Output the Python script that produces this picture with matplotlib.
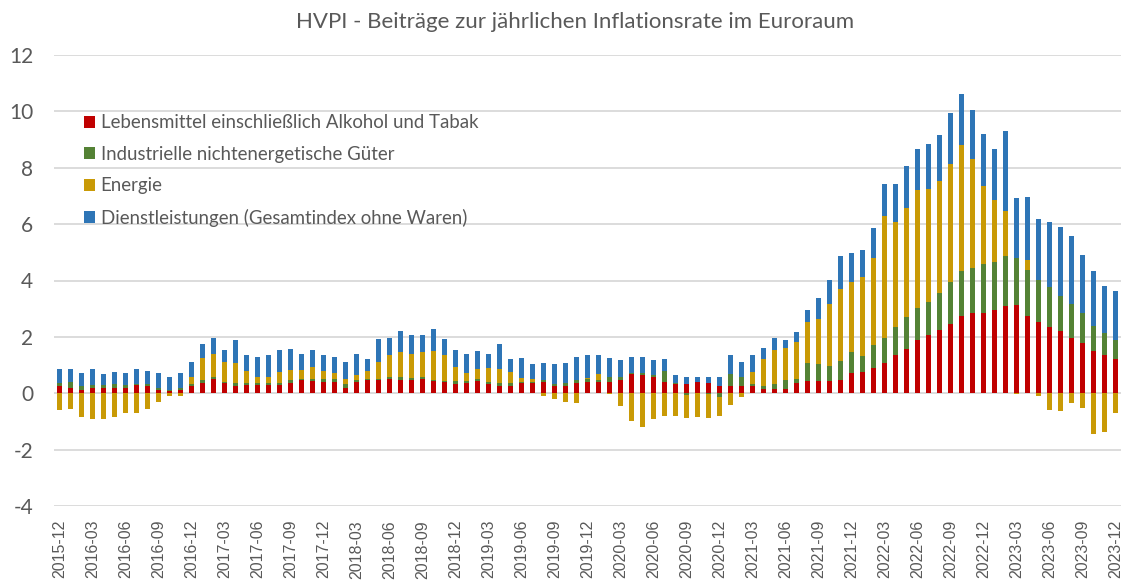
import matplotlib
matplotlib.use("Agg")
import matplotlib.pyplot as plt
import numpy as np
import pandas as pd

# ---- data ----
months = pd.period_range("2015-12", "2023-12", freq="M").strftime("%Y-%m").tolist()

food = [0.24, 0.20, 0.13, 0.17, 0.17, 0.17, 0.17, 0.28, 0.24, 0.13, 0.08, 0.13,
        0.24, 0.35, 0.51, 0.35, 0.27, 0.28, 0.28, 0.28, 0.28, 0.35, 0.47, 0.45,
        0.41, 0.41, 0.20, 0.41, 0.47, 0.47, 0.51, 0.47, 0.47, 0.51, 0.44, 0.39,
        0.33, 0.35, 0.44, 0.33, 0.27, 0.27, 0.35, 0.35, 0.41, 0.27, 0.27, 0.35,
        0.39, 0.39, 0.39, 0.47, 0.67, 0.63, 0.59, 0.39, 0.32, 0.32, 0.39, 0.35,
        0.24, 0.27, 0.27, 0.24, 0.15, 0.15, 0.15, 0.35, 0.44, 0.44, 0.44, 0.47,
        0.71, 0.74, 0.91, 1.06, 1.34, 1.57, 1.89, 2.07, 2.25, 2.47, 2.75, 2.83,
        2.86, 2.96, 3.10, 3.13, 2.74, 2.54, 2.35, 2.20, 1.97, 1.77, 1.50, 1.36,
        1.22]

neig = [0.11, 0.20, 0.14, 0.11, 0.11, 0.15, 0.11, 0.06, 0.08, 0.07, 0.04, 0.06,
        0.08, 0.12, 0.05, 0.06, 0.08, 0.07, 0.07, 0.07, 0.07, 0.12, 0.04, 0.06,
        0.10, 0.10, 0.13, 0.06, 0.04, 0.04, 0.08, 0.09, 0.06, 0.05, 0.04, 0.05,
        0.11, 0.09, 0.07, 0.08, 0.10, 0.08, 0.06, 0.06, 0.06, 0.06, 0.08, 0.12,
        0.12, 0.08, 0.17, 0.12, 0.04, 0.08, 0.04, 0.40, 0.03, -0.05, 0.00, -0.04,
        -0.14, 0.40, 0.29, 0.08, 0.12, 0.17, 0.32, 0.16, 0.62, 0.59, 0.54, 0.68,
        0.77, 0.58, 0.80, 0.91, 1.01, 1.14, 1.12, 1.18, 1.32, 1.49, 1.59, 1.63,
        1.74, 1.71, 1.76, 1.68, 1.63, 1.49, 1.41, 1.25, 1.21, 1.06, 0.90, 0.76,
        0.66]

energy = [-0.61, -0.57, -0.85, -0.92, -0.92, -0.85, -0.69, -0.69, -0.57, -0.30, -0.11, -0.11,
          0.24, 0.79, 0.85, 0.69, 0.71, 0.44, 0.21, 0.24, 0.39, 0.36, 0.32, 0.42,
          0.27, 0.20, 0.18, 0.16, 0.27, 0.59, 0.75, 0.89, 0.88, 0.89, 1.01, 0.90,
          0.49, 0.27, 0.35, 0.50, 0.49, 0.39, 0.13, 0.10, -0.08, -0.20, -0.30, -0.33,
          0.02, 0.20, -0.03, -0.47, -0.97, -1.20, -0.92, -0.80, -0.80, -0.84, -0.85, -0.85,
          -0.66, -0.41, -0.14, 0.42, 0.95, 1.21, 1.15, 1.32, 1.45, 1.59, 2.19, 2.54,
          2.48, 2.79, 3.10, 4.33, 3.71, 3.87, 4.20, 4.00, 3.95, 4.18, 4.47, 3.84,
          2.76, 2.19, 1.61, -0.02, 0.36, -0.09, -0.58, -0.63, -0.34, -0.54, -1.43, -1.39,
          -0.69]

services = [0.51, 0.46, 0.44, 0.58, 0.39, 0.42, 0.43, 0.52, 0.46, 0.51, 0.47, 0.52,
            0.54, 0.47, 0.55, 0.42, 0.82, 0.58, 0.73, 0.75, 0.78, 0.73, 0.55, 0.59,
            0.56, 0.58, 0.59, 0.75, 0.44, 0.81, 0.62, 0.75, 0.67, 0.63, 0.78, 0.57,
            0.59, 0.70, 0.63, 0.50, 0.87, 0.48, 0.71, 0.51, 0.59, 0.69, 0.71, 0.83,
            0.81, 0.67, 0.69, 0.59, 0.59, 0.59, 0.55, 0.43, 0.28, 0.27, 0.17, 0.24,
            0.32, 0.67, 0.54, 0.60, 0.39, 0.43, 0.27, 0.33, 0.45, 0.75, 0.86, 1.17,
            1.00, 0.97, 1.06, 1.13, 1.37, 1.48, 1.44, 1.59, 1.64, 1.80, 1.79, 1.76,
            1.84, 1.79, 2.84, 2.12, 2.23, 2.15, 2.30, 2.46, 2.39, 2.06, 1.94, 1.67,
            1.73]

series_names = ["Lebensmittel einschließlich Alkohol und Tabak",
                "Industrielle nichtenergetische Güter",
                "Energie",
                "Dienstleistungen (Gesamtindex ohne Waren)"]
series_colors = ["#C00000", "#548235", "#C99A06", "#2E75B6"]
title = "HVPI - Beiträge zur jährlichen Inflationsrate im Euroraum"
yticks = [-4, -2, 0, 2, 4, 6, 8, 10, 12]

# ---- figure ----
W, H = 1134, 585
fig = plt.figure(figsize=(W / 100, H / 100), dpi=100)
left_px, right_px, top_px, bottom_px = 54, 1121, 55, 506
ax = fig.add_axes([left_px / W, 1 - bottom_px / H,
                   (right_px - left_px) / W, (bottom_px - top_px) / H])

x = np.arange(len(months))
pos_base = np.zeros(len(months))
neg_base = np.zeros(len(months))
for name, vals, col in zip(series_names, [food, neig, energy, services], series_colors):
    v = np.array(vals, dtype=float)
    bottoms = np.where(v >= 0, pos_base, neg_base)
    ax.bar(x, v, bottom=bottoms, width=0.45, color=col, label=name, zorder=3)
    pos_base = pos_base + np.where(v >= 0, v, 0)
    neg_base = neg_base + np.where(v < 0, v, 0)

ax.set_xlim(-0.5, len(months) - 0.5)
ax.set_ylim(-4, 12)
ax.set_yticks(yticks)
ax.set_yticklabels([str(t) for t in yticks], fontfamily="Lato", fontsize=15, color="#595959")
ax.yaxis.grid(True, color="#D9D9D9", linewidth=1.3, zorder=0)
ax.set_axisbelow(True)
ax.tick_params(axis="y", length=0, pad=15)

tick_idx = x[::3]
ax.set_xticks(tick_idx)
ax.set_xticklabels([months[i] for i in tick_idx], rotation=90, fontfamily="Liberation Sans",
                   fontsize=11.5, color="#595959")
ax.tick_params(axis="x", length=0, pad=10)

for s in ax.spines.values():
    s.set_visible(False)

fig.text(0.507, 1 - 22 / H, title, ha="center", va="center", fontfamily="Lato",
         fontsize=16, color="#595959")

leg = ax.legend(loc="upper left", bbox_to_anchor=(0.021, 0.885), frameon=False,
                prop={"family": "Lato", "size": 13.4}, labelcolor="#595959",
                handlelength=0.6, handleheight=0.6, handletextpad=0.3,
                labelspacing=0.78, borderaxespad=0)

fig.savefig("out.png", dpi=100, facecolor="white")
